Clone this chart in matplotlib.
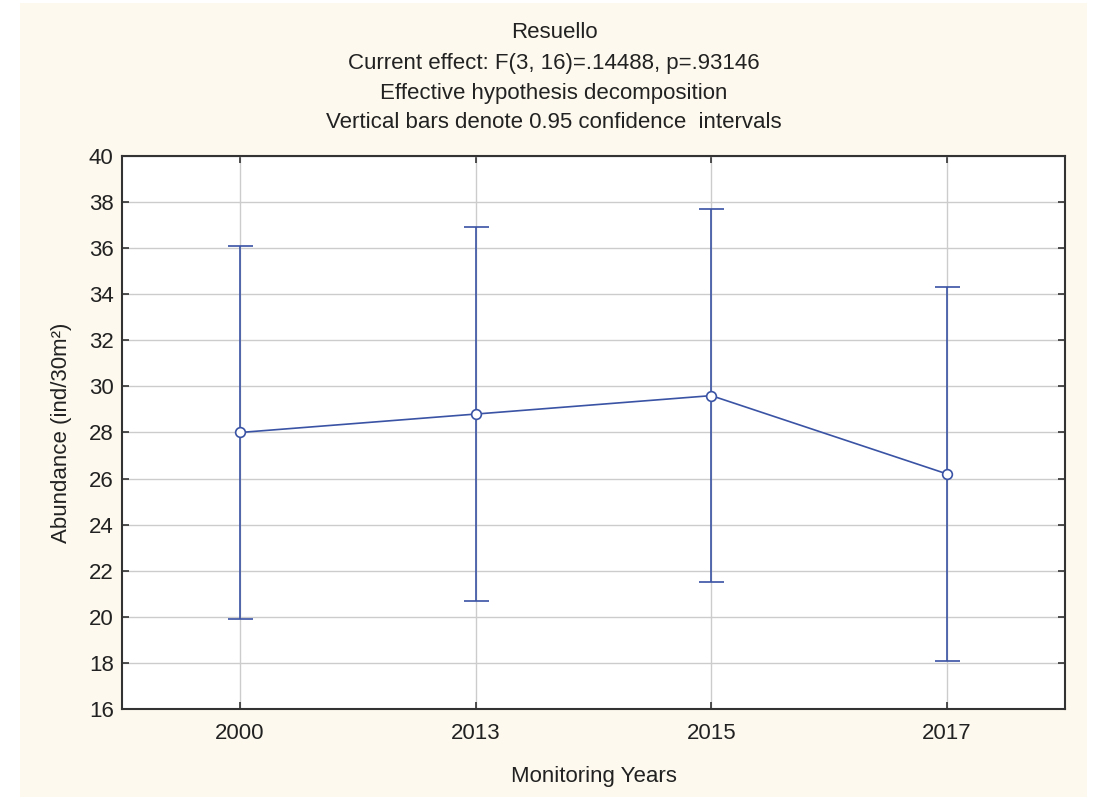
import matplotlib
matplotlib.use("Agg")
import matplotlib.pyplot as plt
from matplotlib.patches import Rectangle

years = ["2000", "2013", "2015", "2017"]
means = [28.0, 28.8, 29.6, 26.2]
upper = [36.1, 36.9, 37.7, 34.3]
lower = [19.9, 20.7, 21.5, 18.1]
yticks = [16, 18, 20, 22, 24, 26, 28, 30, 32, 34, 36, 38, 40]
title_lines = ["Resuello",
               "Current effect: F(3, 16)=.14488, p=.93146",
               "Effective hypothesis decomposition",
               "Vertical bars denote 0.95 confidence  intervals"]

plt.rcParams['font.family'] = ['Liberation Sans', 'DejaVu Sans']
FS = 16
W, H = 1094, 797
fig = plt.figure(figsize=(W / 100, H / 100), dpi=100, facecolor="white")
cream = "#FDF9EE"
fig.patches.append(Rectangle((20 / W, 0), (1087 - 20) / W, (797 - 3) / H,
                             transform=fig.transFigure, facecolor=cream,
                             edgecolor="none", zorder=-10))

ax = fig.add_axes([122 / W, (797 - 709) / H, (1065 - 122) / W, (709 - 156) / H])
ax.set_zorder(5)
ax.set_facecolor("white")
color = "#3A53A4"
x = list(range(len(years)))
yerr = [[m - l for m, l in zip(means, lower)], [u - m for m, u in zip(means, upper)]]
ax.errorbar(x, means, yerr=yerr, color=color, lw=1.2, elinewidth=1.2,
            capsize=9, capthick=1.2, marker="o", markersize=7,
            markerfacecolor="white", markeredgecolor=color, markeredgewidth=1.2,
            zorder=3)

ax.set_xlim(-0.5, len(years) - 0.5)
ax.set_ylim(16, 40)
ax.set_yticks(yticks)
ax.set_xticks(x)
ax.set_xticklabels(years)
ax.grid(True, color="#CCCCCC", lw=1.0, zorder=0)
ax.set_axisbelow(True)
ax.tick_params(direction="in", length=5, width=1.2, color="#333333",
               top=True, right=True, labelsize=FS, labelcolor="#222222", pad=6)
ax.tick_params(axis="x", pad=10)
for s in ax.spines.values():
    s.set_color("#333333")
    s.set_linewidth(1.5)

ax.set_xlabel("Monitoring Years", fontsize=FS, color="#222222", labelpad=16)
ax.set_ylabel("Abundance (ind/30m²)", fontsize=FS, color="#222222", labelpad=12)

cx = 554 / W
for i, line in enumerate(title_lines):
    fig.text(cx, 1 - (33 + 30 * i) / H, line, ha="center", va="center",
             fontsize=FS, color="#222222")

fig.savefig("out.png", dpi=100, facecolor="white")
